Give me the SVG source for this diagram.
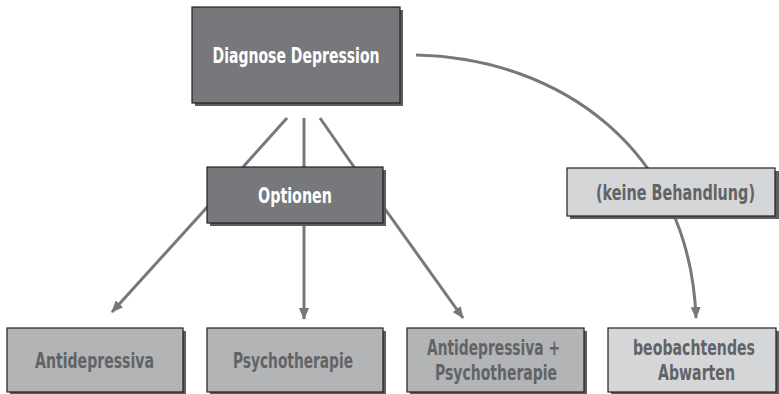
<svg xmlns="http://www.w3.org/2000/svg" width="779" height="394" viewBox="0 0 779 394">
  <style>
    .shadow { fill: #5d5e60; }
    .box { stroke: #231f20; stroke-width: 1.2; }
    .dark { fill: #77787b; }
    .mid { fill: #b3b4b6; }
    .light { fill: #d5d6d8; }
    .lbl { font-family: "DejaVu Sans Condensed", "Liberation Sans", sans-serif; font-weight: bold; font-size: 22px; text-anchor: middle; }
    .white { fill: #ffffff; }
    .grey { fill: #626366; }
    .conn { stroke: #77787b; stroke-width: 3; fill: none; }
  </style>
  <defs>
    <marker id="arrow" markerUnits="userSpaceOnUse" markerWidth="12" markerHeight="10" refX="11" refY="5" orient="auto">
      <path d="M0,0 L12,5 L0,10 Z" fill="#77787b"/>
    </marker>
  </defs>

  <rect width="779" height="394" fill="#ffffff"/>

  <!-- connectors -->
  <g id="connectors">
    <line class="conn" x1="287" y1="118" x2="243" y2="167"/>
    <line class="conn" x1="304" y1="118" x2="304" y2="167"/>
    <line class="conn" x1="320" y1="118" x2="354" y2="167"/>
    <line class="conn" x1="220" y1="193" x2="112" y2="312" marker-end="url(#arrow)"/>
    <line class="conn" x1="304" y1="223" x2="304" y2="319" marker-end="url(#arrow)"/>
    <line class="conn" x1="375" y1="195" x2="463" y2="318" marker-end="url(#arrow)"/>
    <path class="conn" d="M416,55 C560,58 690,150 696,318" marker-end="url(#arrow)"/>
  </g>

  <!-- nodes -->
  <g id="diagnose">
    <rect class="shadow" x="195" y="10" width="208" height="96"/>
    <rect class="box dark" x="192" y="7" width="208" height="96"/>
    <text class="lbl white" x="296" y="63" textLength="167" lengthAdjust="spacingAndGlyphs">Diagnose Depression</text>
  </g>

  <g id="optionen">
    <rect class="shadow" x="210" y="170" width="176" height="56"/>
    <rect class="box dark" x="207" y="167" width="176" height="56"/>
    <text class="lbl white" x="295" y="203" textLength="74" lengthAdjust="spacingAndGlyphs">Optionen</text>
  </g>

  <g id="keine-behandlung">
    <rect class="shadow" x="570" y="171" width="209" height="48"/>
    <rect class="box light" x="567" y="168" width="208" height="48"/>
    <text class="lbl grey" x="675.5" y="200" textLength="159" lengthAdjust="spacingAndGlyphs">(keine Behandlung)</text>
  </g>

  <g id="antidepressiva">
    <rect class="shadow" x="10" y="331" width="176" height="63"/>
    <rect class="box mid" x="7" y="328" width="176" height="64"/>
    <text class="lbl grey" x="94.5" y="368" textLength="119" lengthAdjust="spacingAndGlyphs">Antidepressiva</text>
  </g>

  <g id="psychotherapie">
    <rect class="shadow" x="210" y="331" width="176" height="63"/>
    <rect class="box mid" x="207" y="328" width="176" height="64"/>
    <text class="lbl grey" x="293" y="368" textLength="120" lengthAdjust="spacingAndGlyphs">Psychotherapie</text>
  </g>

  <g id="kombination">
    <rect class="shadow" x="410" y="331" width="177" height="63"/>
    <rect class="box mid" x="407" y="328" width="177" height="64"/>
    <text class="lbl grey" x="493.5" y="355" textLength="133" lengthAdjust="spacingAndGlyphs">Antidepressiva +</text>
    <text class="lbl grey" x="496" y="380" textLength="122" lengthAdjust="spacingAndGlyphs">Psychotherapie</text>
  </g>

  <g id="abwarten">
    <rect class="shadow" x="611" y="331" width="168" height="63"/>
    <rect class="box light" x="608" y="328" width="168" height="64"/>
    <text class="lbl grey" x="694" y="355" textLength="122" lengthAdjust="spacingAndGlyphs">beobachtendes</text>
    <text class="lbl grey" x="696.5" y="380" textLength="77" lengthAdjust="spacingAndGlyphs">Abwarten</text>
  </g>
</svg>
